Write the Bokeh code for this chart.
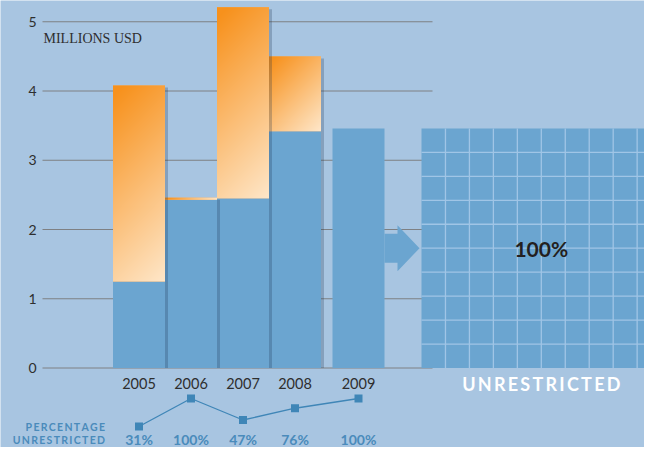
import numpy as np
from bokeh.plotting import figure
from bokeh.models import Range1d
from bokeh.core.properties import value
from bokeh.embed import file_html
from bokeh.resources import INLINE

# ---------------- data ----------------
years = ["2005", "2006", "2007", "2008", "2009"]
groups = [0, 0, 0, 0, 1]                      # 2009 stands a little apart
unrestricted = [1.25, 2.43, 2.45, 3.42, 3.46]  # millions USD
restricted = [2.83, 0.03, 2.76, 1.08, 0.0]     # millions USD
pct_unrestricted = [31, 100, 47, 76, 100]
y_ticks = [0, 1, 2, 3, 4, 5]
unit_label = "MILLIONS USD"
box_label = "100%"
box_caption = "UNRESTRICTED"
pct_title = ["PERCENTAGE", "UNRESTRICTED"]

# ---------------- layout / style ----------------
W, H = 644, 447
X0_PX, Y0_PX = 138.5, 367.5  # first bar centre, zero line (px from top-left)
PX_X, PX_Y = 52.0, 69.25     # px per bar slot, px per million
PCT_TOP_PX, PCT_BOT_PX = 398.0, 426.0   # rows of max / min percentage marker
GAP = 11.5 / PX_X

BG = "#a8c5e1"
BLUE = "#6ba5d0"
GRID = "#7e8083"
CELL_LINE = "#a0c5e6"
DARK = "#2e2e2e"
PCT_TXT = "#4a8bbb"
PCT_LINE = "#3f86b7"
FONT = "Lato"


def dx(px):
    return px / PX_X


def dy(px):
    return px / PX_Y


def ypx(py):  # pixel row -> data y
    return (Y0_PX - py) / PX_Y


x = [i + g * GAP for i, g in enumerate(groups)]
total = [u + r for u, r in zip(unrestricted, restricted)]

p = figure(width=W, height=H,
           x_range=Range1d(-X0_PX / PX_X, (W - X0_PX) / PX_X),
           y_range=Range1d(-(H - Y0_PX) / PX_Y, Y0_PX / PX_Y),
           output_backend="svg", toolbar_location=None, min_border=0,
           x_axis_type=None, y_axis_type=None, outline_line_color=None,
           background_fill_color=BG, border_fill_color=BG)

pmin, pmax = min(pct_unrestricted), max(pct_unrestricted)
px_pct = (PCT_BOT_PX - PCT_TOP_PX) / (pmax - pmin)
pct0 = PCT_BOT_PX + pmin * px_pct
p.extra_y_ranges = {"pct": Range1d(-(H - pct0) / px_pct, pct0 / px_pct)}

GX0 = (42 - X0_PX) / PX_X
GX1 = (432 - X0_PX) / PX_X

# gridlines
p.segment(x0=[GX0] * len(y_ticks), x1=[GX1] * len(y_ticks), y0=y_ticks, y1=y_ticks,
          line_color=GRID, line_width=1)

# unrestricted (blue) bars
p.vbar(x=x, width=1, bottom=0, top=unrestricted, fill_color=BLUE, line_color=None)

# restricted (orange) bars with gradient
ox = [xi for xi, r in zip(x, restricted) if r > 0]
ou = [u for u, r in zip(unrestricted, restricted) if r > 0]
orr = [r for r in restricted if r > 0]
ot = [u + r for u, r in zip(ou, orr)]
p.vbar(x=ox, width=1, bottom=ou, top=ot, fill_color="#f9b060", line_color=None)


def gradient(w_px, h_px):
    nx = max(2, int(round(w_px)))
    ny = max(2, int(round(h_px)))
    u = np.linspace(0, 1, nx)[None, :]
    v = np.linspace(1, 0, ny)[:, None]  # row 0 is the bottom
    t = (u * w_px + v * h_px) / (w_px + h_px)
    t = np.clip((t - 0.04) / 0.96, 0, 1)
    c0 = np.array([247, 145, 28], dtype=float)
    c1 = np.array([254, 230, 200], dtype=float)
    rgb = c0 + (c1 - c0) * t[..., None]
    img = np.empty((ny, nx), dtype=np.uint32)
    view = img.view(dtype=np.uint8).reshape((ny, nx, 4))
    view[..., :3] = np.round(rgb).astype(np.uint8)
    view[..., 3] = 255
    return img


imgs = [gradient(PX_X, r * PX_Y) for r in orr]
p.image_rgba(image=imgs, x=[xi - 0.5 for xi in ox], y=ou, dw=[1] * len(ox), dh=orr)

# drop shadows at the right edge of bars carrying restricted funds
p.quad(left=[xi + 0.5 for xi in ox], right=[xi + 0.5 + dx(3) for xi in ox],
       bottom=[0] * len(ox), top=[t - dy(2) for t in ot],
       fill_color="#1a3550", fill_alpha=0.25, line_color=None)

# arrow from the last bar to the 100% grid
v_last = unrestricted[-1]
bx = x[-1] + 0.5
mid = v_last / 2
sh, hh = dy(14.5), dy(23)
p.patch(x=[bx, bx + dx(13), bx + dx(13), bx + dx(35), bx + dx(13), bx + dx(13), bx],
        y=[mid + sh, mid + sh, mid + hh, mid, mid - hh, mid - sh, mid - sh],
        fill_color=BLUE, line_color=None)

# grid box of 10x10 cells = 100% unrestricted
n = int(round(np.sqrt(pct_unrestricted[-1])))
bl = bx + dx(37)
bw = v_last * PX_Y / PX_X
p.quad(left=[bl], right=[bl + bw], bottom=[0], top=[v_last], fill_color=BLUE, line_color=None)
ks = list(range(1, n))
p.segment(x0=[bl + bw * k / n for k in ks], x1=[bl + bw * k / n for k in ks],
          y0=[0] * len(ks), y1=[v_last] * len(ks), line_color=CELL_LINE, line_width=1.3)
p.segment(x0=[bl] * len(ks), x1=[bl + bw] * len(ks),
          y0=[v_last * k / n for k in ks], y1=[v_last * k / n for k in ks],
          line_color=CELL_LINE, line_width=1.3)

p.text(x=[bl + bw / 2], y=[mid], text=[box_label], text_font=value(FONT),
       text_font_style="bold", text_font_size="21px", text_color="#231f20",
       text_align="center", text_baseline="middle")
p.text(x=[bl + bw / 2], y=[ypx(383.5)], text=["\u2009".join(box_caption)],
       text_font=value(FONT), text_font_style="bold", text_font_size="18px",
       text_color="white", text_align="center", text_baseline="middle")

# y tick labels
p.text(x=[GX0] * len(y_ticks), y=y_ticks, text=[str(t) for t in y_ticks], x_offset=-6,
       text_font=value(FONT), text_font_size="14px", text_color=DARK,
       text_align="right", text_baseline="alphabetic")
p.text(x=[GX0 + dx(1)], y=[y_ticks[-1] - dy(16.5)], text=[unit_label],
       text_font=value("Liberation Serif"), text_font_size="14px", text_color=DARK,
       text_align="left", text_baseline="alphabetic")

# year labels
p.text(x=x, y=[ypx(383)] * len(x), text=years, text_font=value(FONT),
       text_font_size="14.5px", text_color=DARK, text_align="center", text_baseline="middle")

# percentage unrestricted line
p.line(x=x, y=pct_unrestricted, y_range_name="pct", line_color=PCT_LINE, line_width=1.3)
p.scatter(x=x, y=pct_unrestricted, y_range_name="pct", marker="square", size=8,
          fill_color=PCT_LINE, line_color=None)
p.text(x=x, y=[ypx(439)] * len(x), text=[f"{v}%" for v in pct_unrestricted],
       text_font=value(FONT), text_font_style="bold", text_font_size="14px",
       text_color=PCT_TXT, text_align="center", text_baseline="middle")
p.text(x=[x[0] - 0.5] * 2, y=[ypx(426), ypx(439.5)], text=["\u2009".join(s) for s in pct_title],
       x_offset=-8, text_font=value(FONT), text_font_style="bold", text_font_size="10.5px",
       text_color=PCT_TXT, text_align="right", text_baseline="middle")

open("out.html", "w").write(file_html(p, INLINE))
